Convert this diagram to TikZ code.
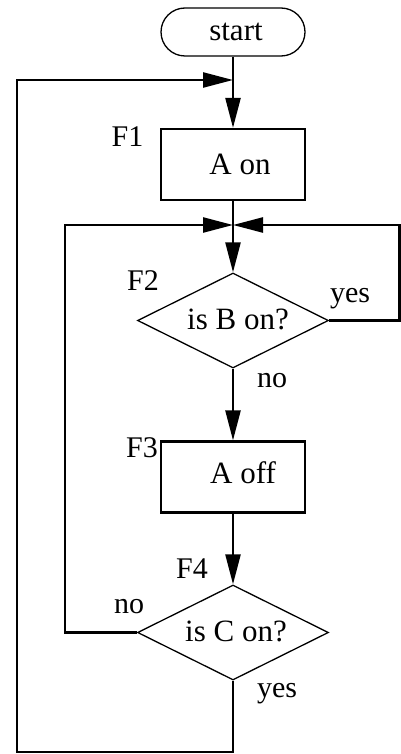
\documentclass[tikz,border=0pt]{standalone}
\usepackage{fontspec}
\setmainfont{Liberation Serif}
\usetikzlibrary{arrows.meta,shapes.geometric}
\newcommand\boxfont{\fontsize{31pt}{35pt}\selectfont}
\newcommand\labfont{\fontsize{30pt}{34pt}\selectfont}
\tikzset{
  every node/.style={font=\boxfont, inner sep=0pt},
  conn/.style={line width=2.4pt},
  arr/.style={conn, -{Triangle[length=30pt,width=15pt]}},
  termbox/.style={draw, line width=1.3pt, rounded corners=24pt, minimum width=144pt, minimum height=48pt},
  procbox/.style={draw, line width=2.2pt, minimum width=144pt, minimum height=71pt},
  decbox/.style={draw, diamond, shape aspect=2, line width=1.3pt, minimum width=191pt, minimum height=95pt},
  lab/.style={anchor=base, font=\labfont}
}
\begin{document}
\begin{tikzpicture}[x=1pt,y=-1pt]
\useasboundingbox (0,0) rectangle (401,754);
\node[termbox] (start) at (233,32) {\hspace*{6pt}start};
\node[procbox] (f1) at (233,164.5) {\hspace*{14pt}A on};
\node[decbox] (f2) at (233,320.5) {\raisebox{3pt}{\hspace*{10pt}is B on?}};
\node[procbox] (f3) at (233,477) {\raisebox{8pt}{\hspace*{20pt}A off}};
\node[decbox] (f4) at (233,632.5) {\raisebox{3pt}{\hspace*{6pt}is C on?}};
\coordinate (j1) at (233,80);
\coordinate (j2) at (233,225);
\coordinate (bl) at (233,752);
\coordinate (rt) at (399.5,320.5);
\coordinate (lt) at (65,632.5);
\node[lab] (l1) at (127.5,147) {F1};
\node[lab] (l2) at (143,290) {F2};
\node[lab] (l3) at (142,457) {F3};
\node[lab] (l4) at (192,578) {F4};
\node[lab] (y2) at (350,302) {yes};
\node[lab] (n2) at (272,387) {no};
\node[lab] (n4) at (129,613) {no};
\node[lab] (y4) at (277,697) {yes};
\draw[arr] (start.south) -- (f1.north);
\draw[arr] (f4.south) -- (bl) -| (17,80) -- (j1);
\draw[conn] (f1.south) -- (j2);
\draw[arr] (j2) -- (f2.north);
\draw[arr] (f2.east) -- (rt) |- (j2);
\draw[arr] (f4.west) -- (lt) |- (j2);
\draw[arr] (f2.south) -- (f3.north);
\draw[arr] (f3.south) -- (f4.north);
\end{tikzpicture}
\end{document}
